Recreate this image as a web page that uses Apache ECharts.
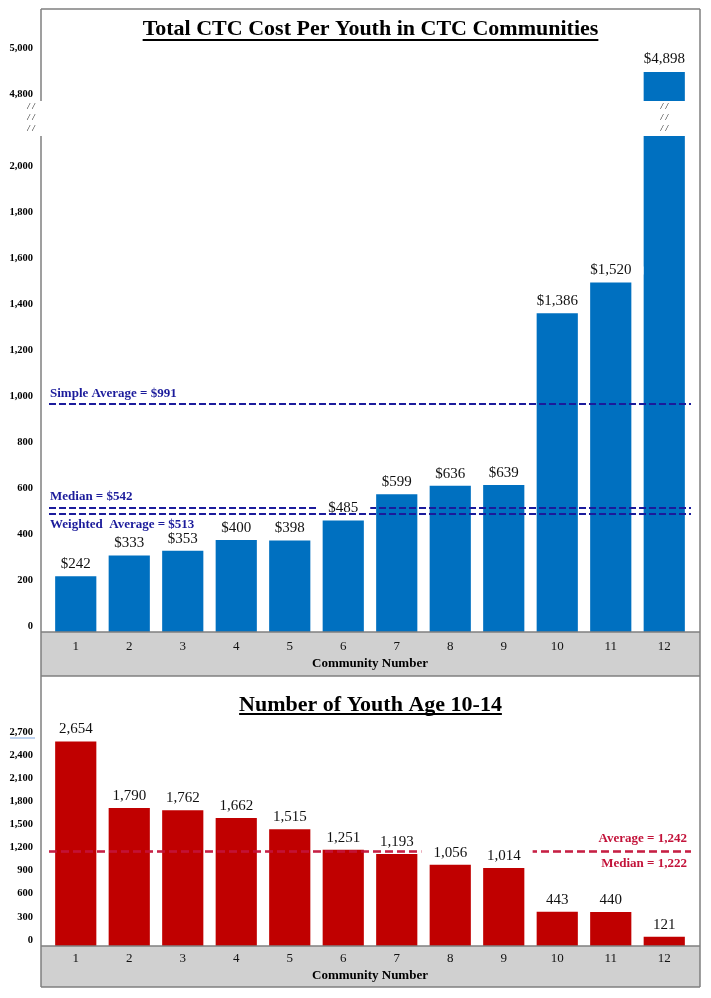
<!DOCTYPE html>
<html><head><meta charset="utf-8">
<script src="https://cdn.jsdelivr.net/npm/echarts@6/dist/echarts.min.js"></script>
<style>html,body{margin:0;padding:0;background:#fff}#c{width:711px;height:998px}</style>
</head><body><div id="c"></div>
<script>
// ---------------- data ----------------
const communities = ['1','2','3','4','5','6','7','8','9','10','11','12'];
const costPerYouth = [242, 333, 353, 400, 398, 485, 599, 636, 639, 1386, 1520, 4898];
const costLowerTicks = [0, 200, 400, 600, 800, 1000, 1200, 1400, 1600, 1800, 2000];
const costUpperTicks = [4800, 5000];
const costLineNames = ['Simple Average = $991', 'Median = $542', 'Weighted  Average = $513'];
const costLineValues = [991, 542, 513];

const youthCount = [2654, 1790, 1762, 1662, 1515, 1251, 1193, 1056, 1014, 443, 440, 121];
const youthTicks = [0, 300, 600, 900, 1200, 1500, 1800, 2100, 2400, 2700];
const youthLineNames = ['Average = 1,242', 'Median = 1,222'];
const youthLineValues = [1242, 1222];

const title1 = 'Total CTC Cost Per Youth in CTC Communities';
const title2 = 'Number of Youth Age 10-14';
const xName = 'Community Number';

// ---------------- style ----------------
const FF = '"Liberation Serif", "Times New Roman", serif';
const BLUE = '#0070C0', RED = '#C00000', NAVY = '#1b1b9b', CRIMSON = '#C3133A';
const FRAME = '#7f7f7f', BAND = '#d0d0d0';
const lowerMax = 2157, upperMin = 4772, upperMax = 5172;
const L = 41, R = 700, T = 9, SEP = 676, B = 987, BASE1 = 632, BASE2 = 946;
const costLinePos = ['insideStartTop', 'insideStartTop', 'insideStartBottom'];
const youthLinePos = ['insideEndTop', 'insideEndBottom'];

const fmt = v => Number(v).toLocaleString('en-US');
const chart = echarts.init(document.getElementById('c'));

function measure(text, font) {
  const ctx = document.createElement('canvas').getContext('2d');
  ctx.font = font;
  return ctx.measureText(text).width;
}

const yLabel = (extra) => Object.assign({
  fontFamily: FF, fontWeight: 'bold', fontSize: 10.5, color: '#000', margin: 16,
  formatter: v => fmt(v)
}, extra);

const xCat = (grid, margin, gap) => ({
  gridIndex: grid, type: 'category', data: communities,
  axisLine: {show: false}, axisTick: {show: false},
  axisLabel: {margin: margin, fontFamily: FF, fontSize: 13, color: '#111'},
  name: xName, nameLocation: 'middle', nameGap: gap,
  nameTextStyle: {fontFamily: FF, fontWeight: 'bold', fontSize: 13, color: '#000'}
});

function baseGraphics() {
  const g = [];
  const line = (x1, y1, x2, y2, color, w, z) => g.push({type: 'line', z: z == null ? 20 : z, silent: true,
    shape: {x1, y1, x2, y2}, style: {stroke: color, lineWidth: w}});
  // grey category bands
  g.push({type: 'rect', z: -5, silent: true, shape: {x: L, y: BASE1, width: R - L, height: SEP - BASE1}, style: {fill: BAND}});
  g.push({type: 'rect', z: -5, silent: true, shape: {x: L, y: BASE2, width: R - L, height: B - BASE2}, style: {fill: BAND}});
  // frame
  line(L, T, R, T, FRAME, 1.5);
  line(R, T, R, B, FRAME, 1.5);
  line(L, B, R, B, FRAME, 1.5);
  line(L, SEP, R, SEP, FRAME, 1.5);
  line(L, T, L, 101, FRAME, 1.5);
  line(L, 136, L, B, FRAME, 1.5);
  line(L, BASE1, R, BASE1, FRAME, 1.5);
  line(L, BASE2, R, BASE2, FRAME, 1.5);
  // titles with underline
  const tf = 'bold 22px ' + FF;
  const cx = (L + R) / 2;
  [[title1, 29, 40], [title2, 705, 714]].forEach(([t, y, uy]) => {
    g.push({type: 'text', z: 20, x: cx, y: y, style: {text: t, font: tf, fill: '#000', align: 'center', verticalAlign: 'middle'}});
    const w = measure(t, tf);
    line(cx - w / 2, uy, cx + w / 2, uy, '#000', 2);
  });
  // axis break marks on the value axis
  [107, 118, 129].forEach(y => g.push({type: 'text', z: 20, x: 31, y: y,
    style: {text: '/ /', font: 'italic 9px ' + FF, fill: '#000', align: 'center', verticalAlign: 'middle'}}));
  // little blue underline under 2,700 (as in source)
  line(10, 738, 35, 738, '#7ea6e0', 1);
  return g;
}

const option = {
  animation: false,
  grid: [
    {left: 49, right: 20, top: 9, height: 92},
    {left: 49, right: 20, top: 136, height: 496},
    {left: 49, right: 20, top: 738, height: 208}
  ],
  xAxis: [
    {gridIndex: 0, type: 'category', data: communities, show: false},
    xCat(1, 8, 25),
    xCat(2, 6, 23)
  ],
  yAxis: [
    {gridIndex: 0, type: 'value', min: upperMin, max: upperMax, splitLine: {show: false},
      axisLine: {show: false}, axisTick: {show: false},
      axisLabel: yLabel({customValues: costUpperTicks})},
    {gridIndex: 1, type: 'value', min: 0, max: lowerMax, splitLine: {show: false},
      axisLine: {show: false}, axisTick: {show: false},
      axisLabel: yLabel({customValues: costLowerTicks, verticalAlign: 'bottom', lineHeight: 12})},
    {gridIndex: 2, type: 'value', min: 0, max: 2700, interval: 300, splitLine: {show: false},
      axisLine: {show: false}, axisTick: {show: false},
      axisLabel: yLabel({customValues: youthTicks, verticalAlign: 'bottom', lineHeight: 12})}
  ],
  series: [
    // upper segment of the broken cost chart
    {type: 'bar', xAxisIndex: 0, yAxisIndex: 0, barCategoryGap: '23%', silent: true,
      data: costPerYouth.map(v => v > upperMin ? v : null),
      itemStyle: {color: BLUE},
      label: {show: true, position: 'top', distance: 5, fontFamily: FF, fontSize: 15, color: '#111',
        formatter: p => '$' + fmt(p.value)}},
    // lower segment
    {type: 'bar', xAxisIndex: 1, yAxisIndex: 1, barCategoryGap: '23%', z: 2, silent: true,
      data: costPerYouth, itemStyle: {color: BLUE},
      markLine: {silent: true, symbol: ['none', 'none'], z: 5,
        lineStyle: {color: NAVY, type: [7, 3], width: 2},
        label: {formatter: '{b}', fontFamily: FF, fontWeight: 'bold', fontSize: 13, color: NAVY, distance: [1, 4]},
        data: costLineValues.map((v, i) => ({yAxis: v, name: costLineNames[i], label: {position: costLinePos[i]}}))}},
    // value labels (white background masks the dashed lines like the source)
    {type: 'bar', xAxisIndex: 1, yAxisIndex: 1, barCategoryGap: '23%', barGap: '-100%', z: 10, silent: true,
      data: costPerYouth.map(v => ({value: v, label: {show: v <= lowerMax}})),
      itemStyle: {color: 'rgba(0,0,0,0)'},
      label: {position: 'top', distance: 8, lineHeight: 8, fontFamily: FF, fontSize: 15, color: '#111',
        backgroundColor: '#fff', padding: [0, 12], formatter: p => '$' + fmt(p.value)}},
    // youth chart
    {type: 'bar', xAxisIndex: 2, yAxisIndex: 2, barCategoryGap: '23%', z: 2, silent: true,
      data: youthCount, itemStyle: {color: RED},
      markLine: {silent: true, symbol: ['none', 'none'], z: 5,
        lineStyle: {color: CRIMSON, type: [8, 4], width: 1.5},
        label: {formatter: '{b}', fontFamily: FF, fontWeight: 'bold', fontSize: 13, color: CRIMSON, distance: [4, 5]},
        data: youthLineValues.map((v, i) => ({yAxis: v, name: youthLineNames[i], label: {position: youthLinePos[i]}}))}},
    {type: 'bar', xAxisIndex: 2, yAxisIndex: 2, barCategoryGap: '23%', barGap: '-100%', z: 10, silent: true,
      data: youthCount, itemStyle: {color: 'rgba(0,0,0,0)'},
      label: {show: true, position: 'top', distance: 5, lineHeight: 14, fontFamily: FF, fontSize: 15, color: '#111',
        backgroundColor: '#fff', padding: [0, 12], formatter: p => fmt(p.value)}}
  ],
  graphic: {elements: baseGraphics()}
};
chart.setOption(option);

// break marks on the broken bar, positioned through the category axis
const g = baseGraphics();
costPerYouth.forEach((v, i) => {
  if (v > upperMin) {
    const bx = chart.convertToPixel({xAxisIndex: 1}, i);
    [107, 118, 129].forEach(y => g.push({type: 'text', z: 20, x: bx, y: y,
      style: {text: '/ /', font: 'italic 9px ' + FF, fill: '#000', align: 'center', verticalAlign: 'middle'}}));
  }
});
chart.setOption({graphic: {elements: g}}, {replaceMerge: ['graphic']});
</script>
</body></html>
